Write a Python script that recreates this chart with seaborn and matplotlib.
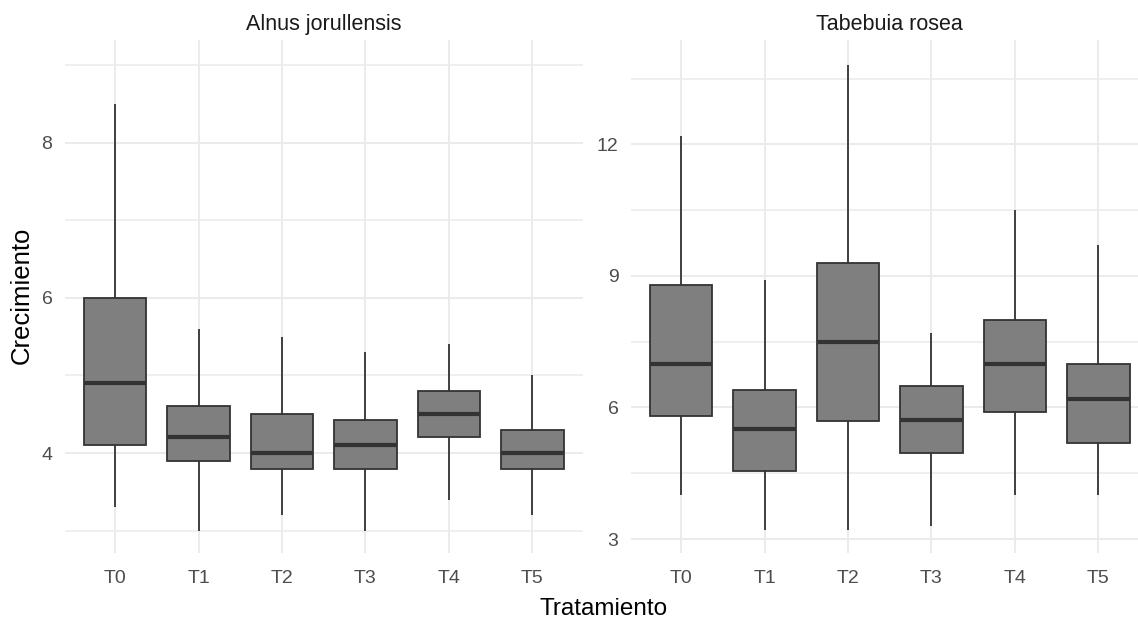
import numpy as np
import pandas as pd
import matplotlib
matplotlib.use("Agg")
import matplotlib.pyplot as plt
import seaborn as sns

# Treatments and species (facets)
tratamientos = ["T0", "T1", "T2", "T3", "T4", "T5"]
especies = ["Alnus jorullensis", "Tabebuia rosea"]

# Five-number summaries per treatment: lower whisker, Q1, median, Q3, upper whisker
alnus_min = [3.3, 3.0, 3.2, 3.0, 3.4, 3.2]
alnus_q1 = [4.1, 3.9, 3.8, 3.8, 4.2, 3.8]
alnus_med = [4.9, 4.2, 4.0, 4.1, 4.5, 4.0]
alnus_q3 = [6.0, 4.6, 4.5, 4.42, 4.8, 4.3]
alnus_max = [8.5, 5.6, 5.5, 5.3, 5.4, 5.0]

tabebuia_min = [4.0, 3.2, 3.2, 3.3, 4.0, 4.0]
tabebuia_q1 = [5.8, 4.55, 5.7, 4.95, 5.9, 5.2]
tabebuia_med = [7.0, 5.5, 7.5, 5.72, 7.0, 6.2]
tabebuia_q3 = [8.8, 6.4, 9.3, 6.5, 8.0, 7.0]
tabebuia_max = [12.2, 8.9, 13.8, 7.7, 10.5, 9.7]

# Axis ticks per facet
alnus_major = [4, 6, 8]
alnus_minor = [3, 5, 7, 9]
tabebuia_major = [3, 6, 9, 12]
tabebuia_minor = [4.5, 7.5, 10.5, 13.5]


def long_table(species, lo, q1, med, q3, hi):
    rows = []
    for i, t in enumerate(tratamientos):
        for v in (lo[i], q1[i], med[i], q3[i], hi[i]):
            rows.append({"Especie": species, "Tratamiento": t, "Crecimiento": v})
    return rows


df = pd.DataFrame(
    long_table(especies[0], alnus_min, alnus_q1, alnus_med, alnus_q3, alnus_max)
    + long_table(especies[1], tabebuia_min, tabebuia_q1, tabebuia_med, tabebuia_q3, tabebuia_max)
)

sns.set_theme(style="white")
plt.rcParams["font.family"] = ["Liberation Sans", "DejaVu Sans"]

W, H = 1138, 623
fig = plt.figure(figsize=(W / 100, H / 100), dpi=100)
fig.patch.set_facecolor("white")

panel_top, panel_bottom = 40, 553
panel_w = 517.5
lefts = [65, 631]
ylims = [(2.711, 9.324), (2.681, 14.378)]
majors = [alnus_major, tabebuia_major]
minors = [alnus_minor, tabebuia_minor]

grid_c = "#EBEBEB"
for k, sp in enumerate(especies):
    ax = fig.add_axes([lefts[k] / W, 1 - panel_bottom / H, panel_w / W,
                       (panel_bottom - panel_top) / H])
    ax.set_axisbelow(True)
    sub = df[df["Especie"] == sp]
    sns.boxplot(
        data=sub, x="Tratamiento", y="Crecimiento", order=tratamientos, ax=ax,
        whis=(0, 100), width=0.75, color="#7F7F7F", saturation=1,
        linecolor="#333333", linewidth=1.3, fliersize=0, showcaps=False,
        medianprops=dict(linewidth=3.0, color="#333333"),
    )
    ax.set_xlim(-0.6, 5.6)
    ax.set_ylim(*ylims[k])
    ax.set_yticks(majors[k])
    ax.set_yticks(minors[k], minor=True)
    ax.grid(True, which="major", axis="both", color=grid_c, linewidth=1.4)
    ax.grid(True, which="minor", axis="y", color=grid_c, linewidth=1.1)
    for s in ax.spines.values():
        s.set_visible(False)
    ax.tick_params(axis="both", which="both", length=0, labelsize=14,
                   labelcolor="#4D4D4D")
    ax.tick_params(axis="y", pad=9)
    ax.tick_params(axis="x", pad=12)
    ax.set_xlabel("")
    ax.set_ylabel("")
    ax.set_title(sp, fontsize=15.5, color="#1A1A1A", pad=7)

fig.text(22 / W, 1 - 295 / H, "Crecimiento", rotation=90, ha="center",
         va="center", fontsize=18.5, color="black")
fig.text(604 / W, 1 - 609 / H, "Tratamiento", ha="center", va="center",
         fontsize=17.5, color="black")

fig.savefig("out.png", dpi=100, facecolor="white")
